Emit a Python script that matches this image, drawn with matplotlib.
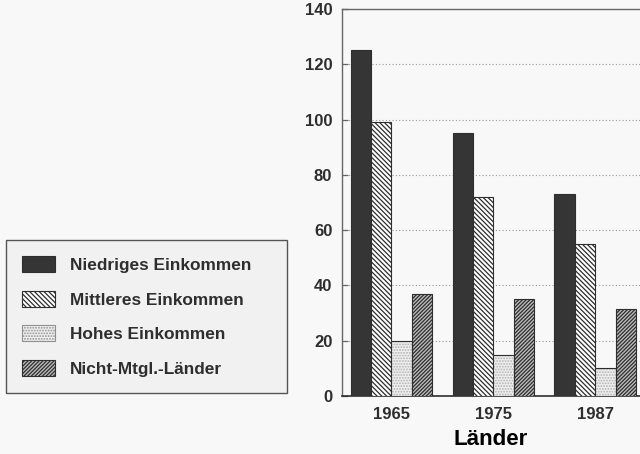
import matplotlib.pyplot as plt
import numpy as np
from matplotlib.patches import Patch

plt.rcParams['font.family'] = ['Liberation Sans', 'DejaVu Sans']
plt.rcParams['hatch.linewidth'] = 0.9

# Daten
jahre = ['1965', '1975', '1987']
gruppen = ['Niedriges Einkommen', 'Mittleres Einkommen',
           'Hohes Einkommen', 'Nicht-Mtgl.-Länder']
niedrig = [125, 95, 73]
mittel = [99, 72, 55]
hoch = [20, 15, 10]
nicht_mtgl = [37, 35, 31.5]
yticks = [0, 20, 40, 60, 80, 100, 120, 140]

bg = '#f8f8f8'
ink = '#2e2e2e'

fig = plt.figure(figsize=(6.4, 4.54), dpi=100, facecolor=bg)
ax = fig.add_axes([342/640, 58/454, 1 - 342/640, 387/454], facecolor=bg)

x = np.arange(len(jahre))
w = 0.2

h_mittel = '\\' * 7
h_nicht = '/' * 9
h_hoch = '.' * 6

ax.bar(x - 1.5*w, niedrig, w, color='#353535', edgecolor=ink, linewidth=0.8, zorder=3)
ax.bar(x - 0.5*w, mittel, w, color='white', edgecolor=ink, hatch=h_mittel,
       linewidth=0.8, zorder=3)
# gepunktete Fläche in hellem Grau, Rand separat dunkel
ax.bar(x + 0.5*w, hoch, w, color='#f0f0f0', edgecolor='#b0b0b0', hatch=h_hoch,
       linewidth=0, zorder=3)
ax.bar(x + 0.5*w, hoch, w, fill=False, edgecolor=ink, linewidth=0.8, zorder=4)
ax.bar(x + 1.5*w, nicht_mtgl, w, color='#bcbcbc', edgecolor=ink, hatch=h_nicht,
       linewidth=0.8, zorder=3)

ax.set_xlim(-0.485, 2.44)
ax.set_ylim(0, 140)
ax.set_yticks(yticks)
ax.set_xticks(x)
ax.set_xticklabels(jahre)

ax.grid(axis='y', linestyle=(0, (1, 2)), color='#9a9a9a', linewidth=0.8, zorder=0)
ax.set_axisbelow(True)

for s in ['left', 'top']:
    ax.spines[s].set_color('#666666')
    ax.spines[s].set_linewidth(1.0)
ax.spines['bottom'].set_color(ink)
ax.spines['bottom'].set_linewidth(1.2)
ax.spines['right'].set_visible(False)

ax.tick_params(axis='y', direction='in', length=4.5, width=0.9, color='#666666',
               pad=7, labelsize=12, labelcolor=ink)
ax.tick_params(axis='x', length=0, pad=8, labelsize=12, labelcolor=ink)
for lab in ax.get_xticklabels() + ax.get_yticklabels():
    lab.set_fontweight('bold')

ax.set_xlabel('Länder', fontsize=16, fontweight='bold', color='black', labelpad=5)

# Legende links als eigener Kasten
handles = [
    Patch(facecolor='#353535', edgecolor=ink, linewidth=0.8),
    Patch(facecolor='white', edgecolor=ink, hatch=h_mittel, linewidth=0.8),
    Patch(facecolor='#f0f0f0', edgecolor='#909090', hatch=h_hoch, linewidth=0.8),
    Patch(facecolor='#bcbcbc', edgecolor=ink, hatch=h_nicht, linewidth=0.8),
]
leg = fig.legend(handles, gruppen, loc='lower left',
                 bbox_to_anchor=(6/640, 61/454, 281/640, 153/454),
                 mode='expand', fancybox=False, framealpha=1,
                 facecolor='#f1f1f1', edgecolor='#555555',
                 prop={'size': 12.4, 'weight': 'bold'},
                 handlelength=1.92, handleheight=1.05, handletextpad=0.85,
                 labelspacing=1.02, borderpad=0.95, borderaxespad=0)
leg.get_frame().set_linewidth(1.0)
for t in leg.get_texts():
    t.set_color(ink)

fig.savefig('out.png', dpi=100, facecolor=bg)
